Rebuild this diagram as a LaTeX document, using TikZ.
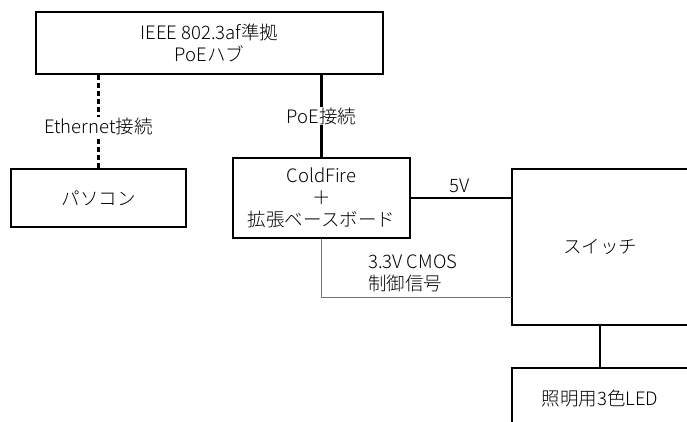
\documentclass[tikz,border=0pt]{standalone}
\usepackage{fontspec}
\setmainfont{Noto Sans CJK JP}[UprightFont={* Light}]
\begin{document}
\begin{tikzpicture}[x=1pt,y=-1pt,
  box/.style={draw, line width=1.6pt, rectangle, inner sep=0pt, font=\fontsize{18.5}{22}\selectfont, align=center},
  conn/.style={line width=2.4pt},
  lbl/.style={fill=white, inner sep=1pt, font=\fontsize{18.5}{22}\selectfont, align=center},
  thin/.style={line width=0.8pt, draw=black!55}]
\useasboundingbox (0,0) rectangle (687,421);
\clip (0,0) rectangle (687,421);
\node[box, minimum width=347pt, minimum height=62pt] (hub) at (209.5,43) {IEEE 802.3af準拠\\PoEハブ};
\node[box, minimum width=175pt, minimum height=58pt] (pc) at (98.5,198) {パソコン};
\node[box, minimum width=177pt, minimum height=80pt] (cf) at (321.5,198) {ColdFire\\＋\\拡張ベースボード};
\node[box, minimum width=176pt, minimum height=156pt] (sw) at (600,247) {スイッチ};
\node[box, minimum width=176pt, minimum height=60pt] (led) at (600,398) {照明用3色LED};
\coordinate (sig) at (512,297);
\draw[conn, line width=2.2pt, dash pattern=on 5pt off 3pt] (hub.south -| pc.north) -- node[lbl, pos=0.55] (eth) {Ethernet接続} (pc.north);
\draw[conn] (hub.south -| cf.north) -- node[lbl, pos=0.5] (poe) {PoE接続} (cf.north);
\draw[conn] (cf.east) -- (cf.east -| sw.west);
\node[font=\fontsize{18.5}{22}\selectfont, inner sep=0pt] (v5) at (460,186) {5V};
\draw[thin] (cf.south) |- (sig);
\node[font=\fontsize{18.5}{22}\selectfont, align=left, anchor=west, inner sep=0pt] (cmos) at (368,273) {3.3V CMOS\\制御信号};
\draw[conn] (sw.south) -- (led.north);
\end{tikzpicture}
\end{document}
